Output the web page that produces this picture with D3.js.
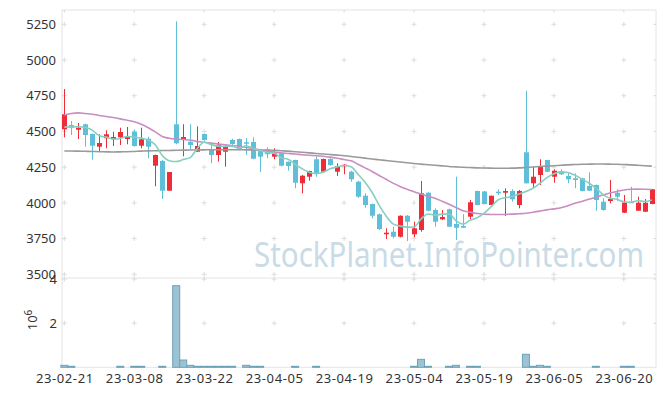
<!DOCTYPE html>
<html lang="en">
<head>
  <meta charset="UTF-8">
  <title>Stock chart</title>
  <script src="https://d3js.org/d3.v7.min.js"></script>
  <style>
    body { margin: 0; background: #fff; }
    text { font-family: "Noto Sans", sans-serif; fill: #333; }
  </style>
</head>
<body>
<svg id="chart" width="665" height="396"></svg>

<script>
const dates = [
  "23-02-21","23-02-22","23-02-23","23-02-24","23-02-27","23-02-28","23-03-02","23-03-03","23-03-06","23-03-07",
  "23-03-08","23-03-09","23-03-10","23-03-13","23-03-14","23-03-15","23-03-16","23-03-17","23-03-20","23-03-21",
  "23-03-22","23-03-23","23-03-24","23-03-27","23-03-28","23-03-29","23-03-30","23-03-31","23-04-03","23-04-04",
  "23-04-05","23-04-06","23-04-07","23-04-10","23-04-11","23-04-12","23-04-13","23-04-14","23-04-17","23-04-18",
  "23-04-19","23-04-20","23-04-21","23-04-24","23-04-25","23-04-26","23-04-27","23-04-28","23-05-02","23-05-03",
  "23-05-04","23-05-08","23-05-09","23-05-10","23-05-11","23-05-12","23-05-15","23-05-16","23-05-17","23-05-18",
  "23-05-19","23-05-22","23-05-23","23-05-24","23-05-25","23-05-26","23-05-30","23-05-31","23-06-01","23-06-02",
  "23-06-05","23-06-07","23-06-08","23-06-09","23-06-12","23-06-13","23-06-14","23-06-15","23-06-16","23-06-19",
  "23-06-20","23-06-21","23-06-22","23-06-23","23-06-26"
];

const open = [
  4515,4545,4512,4550,4482,4393,4452,4445,4459,4447,
  4498,4400,4449,4260,4293,4085,4550,4440,4428,4358,
  4482,4374,4335,4358,4440,4447,4424,4426,4365,4374,
  4323,4347,4288,4300,4137,4183,4305,4218,4307,4218,
  4258,4218,4148,4050,3992,3920,3780,3798,3763,3910,
  3780,3810,4071,3950,3885,3955,3852,3838,3903,4083,
  4080,3985,4078,4071,4083,3985,4354,4137,4195,4300,
  4183,4223,4188,4172,4172,4118,4125,4008,4013,4071,
  3931,4008,3945,3938,3992
];
const high = [
  4797,4573,4559,4555,4485,4480,4508,4498,4526,4531,
  4512,4526,4463,4338,4300,4216,5271,4550,4550,4536,
  4485,4417,4426,4400,4449,4450,4454,4459,4370,4389,
  4382,4352,4290,4302,4195,4226,4323,4310,4312,4277,
  4272,4225,4155,4067,3995,3925,3822,3833,3912,3915,
  3868,4153,4075,3962,3950,3960,4183,3922,4020,4085,
  4083,4050,4095,4102,4095,4090,4783,4253,4305,4302,
  4235,4235,4207,4207,4175,4214,4128,4032,4160,4095,
  4055,4113,4043,4027,4097
];
const low = [
  4459,4475,4447,4393,4302,4363,4382,4398,4405,4410,
  4393,4382,4312,4116,4027,4085,4410,4326,4370,4358,
  4435,4277,4288,4253,4389,4368,4335,4305,4216,4312,
  4305,4255,4225,4102,4067,4155,4183,4215,4260,4188,
  4200,4148,4035,3966,3892,3810,3747,3752,3758,3733,
  3759,3798,3940,3833,3880,3830,3740,3824,3887,3983,
  3990,3985,4055,3908,4008,3962,4135,4102,4125,4215,
  4141,4195,4137,4102,4080,4083,3945,3945,3997,4013,
  3929,3999,3943,3936,3990
];
const close = [
  4620,4526,4526,4475,4400,4419,4480,4461,4496,4463,
  4398,4445,4393,4335,4085,4216,4417,4461,4405,4398,
  4440,4335,4407,4393,4412,4370,4417,4309,4323,4340,
  4347,4260,4258,4141,4190,4223,4207,4307,4265,4258,
  4267,4165,4043,3985,3910,3817,3791,3763,3910,3868,
  3822,4067,3945,3868,3901,3833,3826,3826,4004,3985,
  3992,4050,4071,4083,4025,4083,4137,4183,4258,4218,
  4225,4200,4165,4160,4083,4085,4020,3950,4027,4043,
  4001,4001,4001,4001,4095
];

// volume in millions
const volume = [
  0.09,0.045,0,0,0,0,0,0,0.045,0,
  0.045,0.045,0,0,0.045,0,3.70,0.33,0.09,0.045,
  0.045,0.045,0.045,0.045,0.045,0,0.09,0.045,0.045,0,
  0,0,0,0.045,0,0,0.045,0,0,0,
  0,0,0,0,0,0,0,0,0,0,
  0.045,0.36,0.045,0,0,0.045,0.09,0,0.045,0.045,
  0,0,0,0,0,0,0.59,0.045,0.09,0.045,
  0,0,0,0,0,0,0.045,0,0,0,
  0.045,0.045,0,0,0
];

const ma5 = [
  4530,4532,4533,4528,4509,4469,4460,4447,4451,4464,
  4460,4453,4439,4407,4331,4295,4289,4303,4317,4379,
  4424,4408,4397,4395,4397,4383,4400,4380,4366,4352,
  4347,4316,4306,4269,4239,4214,4204,4214,4238,4252,
  4261,4252,4200,4144,4074,3984,3909,3853,3838,3830,
  3831,3886,3922,3914,3921,3923,3875,3851,3878,3895,
  3927,3971,4020,4036,4044,4062,4080,4102,4137,4176,
  4204,4217,4213,4194,4167,4139,4103,4060,4033,4025,
  4008,4004,4015,4009,4020
];
const ma20 = [
  4615,4625,4630,4625,4620,4612,4604,4597,4588,4578,
  4568,4550,4526,4497,4465,4452,4446,4443,4440,4430,
  4424,4418,4412,4406,4401,4396,4388,4380,4372,4362,
  4355,4350,4346,4342,4337,4333,4330,4326,4320,4312,
  4303,4294,4270,4245,4220,4192,4165,4138,4115,4095,
  4078,4062,4046,4032,4012,3990,3968,3945,3935,3926,
  3920,3919,3918,3919,3921,3924,3927,3934,3942,3951,
  3958,3966,3980,3997,4010,4025,4040,4055,4069,4080,
  4090,4095,4096,4095,4094
];
const ma60 = [
  4363,4363,4362,4361,4360,4358,4357,4356,4357,4358,
  4360,4362,4364,4365,4366,4367,4368,4369,4370,4370,
  4371,4372,4372,4372,4372,4372,4371,4371,4370,4370,
  4368,4365,4362,4358,4354,4350,4346,4342,4338,4334,
  4330,4325,4319,4313,4307,4302,4296,4291,4286,4281,
  4276,4271,4267,4263,4259,4255,4252,4249,4247,4245,
  4244,4243,4242,4242,4243,4245,4248,4251,4254,4257,
  4260,4263,4266,4268,4270,4271,4272,4272,4271,4270,
  4268,4266,4263,4260,4257
];

const xTicks = [0, 10, 20, 30, 40, 50, 60, 70, 80];
const priceTicks = [3500, 3750, 4000, 4250, 4500, 4750, 5000, 5250];
const volTicks = [2, 4];

const L = 62, R = 656, T = 10, MID = 278, B = 367.3;
const upColor = "#ee2d38", downColor = "#5fbfd9";

const svg = d3.select("#chart");

const x = d3.scaleLinear().domain([-0.33, 84.6]).range([L, R]);
const y = d3.scaleLinear().domain([3474, 5350]).range([MID, T]);
const yv = d3.scaleLinear().domain([0, 4.05]).range([B, MID]);

// frame
const frame = svg.append("g")
    .attr("stroke", "#e4e4e4")
    .attr("fill", "none");
frame.append("rect").attr("x", L).attr("y", T).attr("width", R - L).attr("height", B - T);
frame.append("line").attr("x1", L).attr("x2", R).attr("y1", MID).attr("y2", MID);

// small ticks on the top and right borders
frame.selectAll(".tt")
  .data(xTicks)
  .enter().append("line")
    .attr("x1", d => x(d)).attr("x2", d => x(d))
    .attr("y1", T).attr("y2", T + 2.5)
    .attr("stroke", "#d8d8d8");
frame.selectAll(".rt")
  .data(priceTicks.map(p => y(p)).concat(volTicks.map(v => yv(v))))
  .enter().append("line")
    .attr("x1", R - 2.5).attr("x2", R)
    .attr("y1", d => d).attr("y2", d => d)
    .attr("stroke", "#d8d8d8");

// little plus marks at grid crossings
const plusPts = [];
xTicks.forEach(i => {
  priceTicks.forEach(p => plusPts.push([x(i), y(p)]));
  volTicks.forEach(v => plusPts.push([x(i), yv(v)]));
});
svg.append("g")
    .attr("stroke", "#dcdcdc")
  .selectAll("path")
  .data(plusPts)
  .enter().append("path")
    .attr("d", d => `M${d[0] - 2.5},${d[1]}h5M${d[0]},${d[1] - 2.5}v5`);

// watermark
svg.append("text")
    .attr("x", 254)
    .attr("y", 267)
    .attr("textLength", 390)
    .attr("lengthAdjust", "spacingAndGlyphs")
    .style("font-size", "35px")
    .style("fill", "#c9dbe6")
    .text("StockPlanet.InfoPointer.com");

// volume bars
svg.append("g")
  .selectAll("rect")
  .data(volume.map((v, i) => ({ v, i })).filter(d => d.v > 0))
  .enter().append("rect")
    .attr("x", d => x(d.i) - 3.5)
    .attr("width", 7)
    .attr("y", d => yv(d.v))
    .attr("height", d => B - yv(d.v))
    .attr("fill", "#9cc3d3")
    .attr("stroke", "#6ea2b8");

// candles
const candles = svg.append("g")
  .selectAll("g")
  .data(dates.map((d, i) => ({ i, o: open[i], h: high[i], l: low[i], c: close[i] })))
  .enter().append("g")
    .attr("fill", d => d.c >= d.o ? upColor : downColor)
    .attr("stroke", d => d.c >= d.o ? upColor : downColor);

candles.append("line")
    .attr("x1", d => Math.round(x(d.i)) + 0.5)
    .attr("x2", d => Math.round(x(d.i)) + 0.5)
    .attr("y1", d => y(d.h))
    .attr("y2", d => y(d.l));

candles.append("rect")
    .attr("stroke", "none")
    .attr("x", d => Math.round(x(d.i)) - 2)
    .attr("width", 5)
    .attr("y", d => y(Math.max(d.o, d.c)))
    .attr("height", d => Math.max(1.5, Math.abs(y(d.o) - y(d.c))));

// moving averages
const maLine = d3.line()
    .x((d, i) => x(i))
    .y(d => y(d))
    .curve(d3.curveMonotoneX);

[[ma60, "#9a9a9a"], [ma20, "#c98dc3"], [ma5, "#86cfc0"]].forEach(([data, color]) => {
  svg.append("path")
      .datum(data)
      .attr("fill", "none")
      .attr("stroke", color)
      .attr("stroke-width", 1.6)
      .attr("d", maLine);
});

// axes
const priceAxis = svg.append("g")
    .attr("transform", `translate(${L},0)`)
    .call(d3.axisLeft(y).tickValues(priceTicks).tickFormat(d3.format("d")).tickSize(0).tickPadding(6));
const volAxis = svg.append("g")
    .attr("transform", `translate(${L},0)`)
    .call(d3.axisLeft(yv).tickValues(volTicks).tickFormat(d3.format("d")).tickSize(0).tickPadding(5));
const xAxis = svg.append("g")
    .attr("transform", `translate(0,${B})`)
    .call(d3.axisBottom(x).tickValues(xTicks).tickFormat(i => dates[i]).tickSize(0).tickPadding(6));

[priceAxis, volAxis, xAxis].forEach(g => {
  g.select(".domain").remove();
  g.selectAll("text")
      .style("font-size", "13px")
      .style("font-family", "'Noto Sans', sans-serif")
      .attr("fill", "#333");
});
xAxis.selectAll("text").style("letter-spacing", "0.6px");

// volume unit label
const unit = svg.append("text")
    .attr("transform", "translate(37,320) rotate(-90)")
    .attr("text-anchor", "middle")
    .style("font-size", "13px");
unit.append("tspan").text("10");
unit.append("tspan").attr("dy", -5).style("font-size", "10px").text("6");
</script>
</body>
</html>
